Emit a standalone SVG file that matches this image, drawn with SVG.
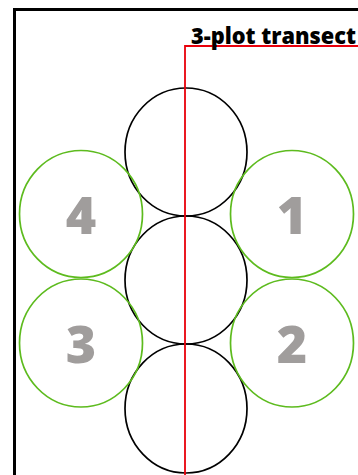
<svg xmlns="http://www.w3.org/2000/svg" width="358" height="475" viewBox="0 0 358 475">
<style>
.core{fill:none;stroke:#000;stroke-width:1.7}
.plot{fill:none;stroke:#5DBB1E;stroke-width:1.7}
.num{font-family:"Open Sans","Noto Sans",sans-serif;font-weight:800;font-size:52px;fill:#A09D9C;text-anchor:middle}
.title{font-family:"Open Sans","Noto Sans",sans-serif;font-weight:800;font-size:22px;fill:#000}
</style>
<rect x="0" y="0" width="358" height="475" fill="#fff"/>
<rect x="14.5" y="9.5" width="400" height="500" fill="none" stroke="#000" stroke-width="3"/>
<g id="core-top"><ellipse class="core" cx="186" cy="152" rx="61" ry="64"/></g>
<g id="core-mid"><ellipse class="core" cx="186" cy="280" rx="61" ry="64"/></g>
<g id="core-bot"><ellipse class="core" cx="186" cy="408.5" rx="61" ry="64.5"/></g>
<g id="plot-4"><ellipse class="plot" cx="81" cy="214" rx="61.5" ry="63.5"/><text class="num" x="81" y="234">4</text></g>
<g id="plot-1"><ellipse class="plot" cx="292" cy="214" rx="61.5" ry="63.5"/><text class="num" x="292" y="234">1</text></g>
<g id="plot-3"><ellipse class="plot" cx="81" cy="343" rx="61.5" ry="64"/><text class="num" x="81" y="363">3</text></g>
<g id="plot-2"><ellipse class="plot" cx="292" cy="343" rx="61.5" ry="64"/><text class="num" x="292" y="363">2</text></g>
<g id="connectors">
<polyline points="185,475 185,46 358,46" fill="none" stroke="#E8000B" stroke-width="1.8"/>
</g>
<g id="label"><text class="title" x="191" y="44" textLength="165" lengthAdjust="spacingAndGlyphs">3-plot transect</text></g>
</svg>
